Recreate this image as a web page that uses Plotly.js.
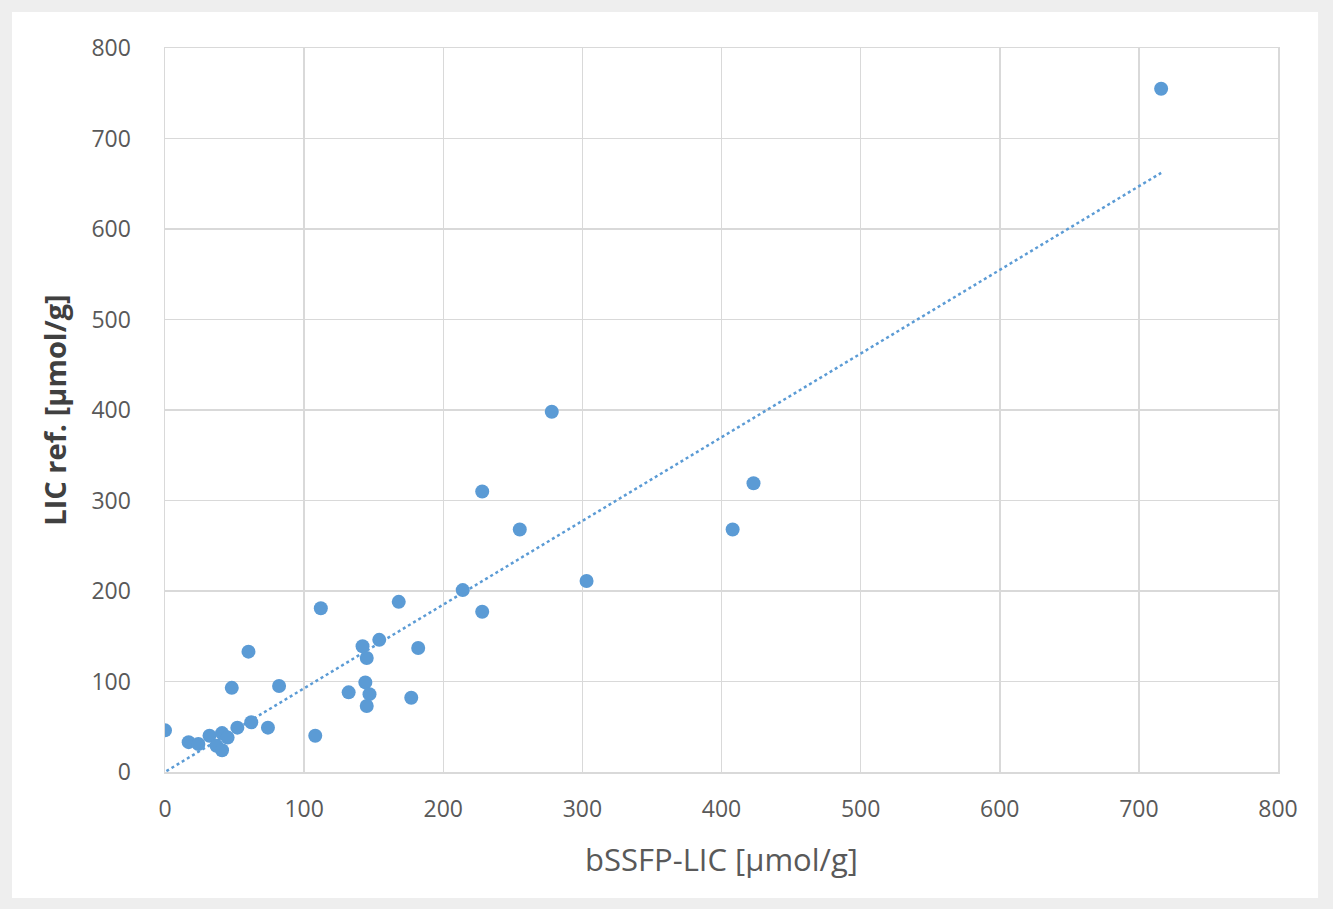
<!DOCTYPE html>
<html>
<head>
<meta charset="utf-8">
<script src="https://cdn.plot.ly/plotly-3.0.1.min.js"></script>
<style>html,body{margin:0;padding:0;background:#fff;}#chart{width:1333px;height:909px;}</style>
</head>
<body>
<div id="chart"></div>
<script>
// bSSFP-LIC [µmol/g]
const bssfpLIC = [0, 17, 24, 32, 37, 41, 41, 45, 52, 48, 60, 62, 74, 82,
  108, 112, 132, 142, 145, 144, 147, 145, 154, 168, 177, 182,
  214, 228, 228, 255, 278, 303, 408, 423, 716];
// LIC ref. [µmol/g]
const licRef = [46, 33, 31, 40, 29, 43, 24, 38, 49, 93, 133, 55, 49, 95,
  40, 181, 88, 139, 126, 99, 86, 73, 146, 188, 82, 137,
  201, 310, 177, 268, 398, 211, 268, 319, 755];
// linear trendline end points
const trendX = [1, 716];
const trendY = [1, 662];
const tickVals = [0, 100, 200, 300, 400, 500, 600, 700, 800];

const blue = '#5b9bd5';
const fontFam = 'Open Sans, Liberation Sans, sans-serif';
const traces = [
  {x: trendX, y: trendY, type: 'scatter', mode: 'lines',
   line: {color: blue, width: 2.5, dash: 'dot'}, hoverinfo: 'skip'},
  {x: bssfpLIC, y: licRef, type: 'scatter', mode: 'markers',
   marker: {color: blue, size: 14, line: {width: 0}}}
];

const axisCommon = {
  range: [0, 800], tickvals: tickVals, ticks: '', showline: true, mirror: true,
  linecolor: '#d9d9d9', linewidth: 1.5, gridcolor: '#d9d9d9', gridwidth: 1.5,
  zeroline: false, tickfont: {family: fontFam, size: 23, color: '#595959'}
};

const layout = {
  width: 1333, height: 909,
  margin: {l: 165, r: 55, t: 48, b: 137},
  paper_bgcolor: '#eeeeee', plot_bgcolor: '#ffffff',
  showlegend: false,
  shapes: [{type: 'rect', xref: 'paper', yref: 'paper', layer: 'below',
    x0: -0.1375, x1: 1.036, y0: -0.174, y1: 1.0497,
    fillcolor: '#ffffff', line: {width: 0}}],
  xaxis: Object.assign({}, axisCommon, {
    ticklabelstandoff: 16,
    title: {text: 'bSSFP-LIC [µmol/g]', standoff: 26,
      font: {family: fontFam, size: 31, color: '#595959'}}
  }),
  yaxis: Object.assign({}, axisCommon, {
    ticklabelstandoff: 28,
    title: {text: '<b>LIC ref. [µmol/g]</b>', standoff: 16,
      font: {family: fontFam, size: 29, color: '#404040'}}
  })
};

Plotly.newPlot('chart', traces, layout, {displayModeBar: false, staticPlot: true});
</script>
</body>
</html>
